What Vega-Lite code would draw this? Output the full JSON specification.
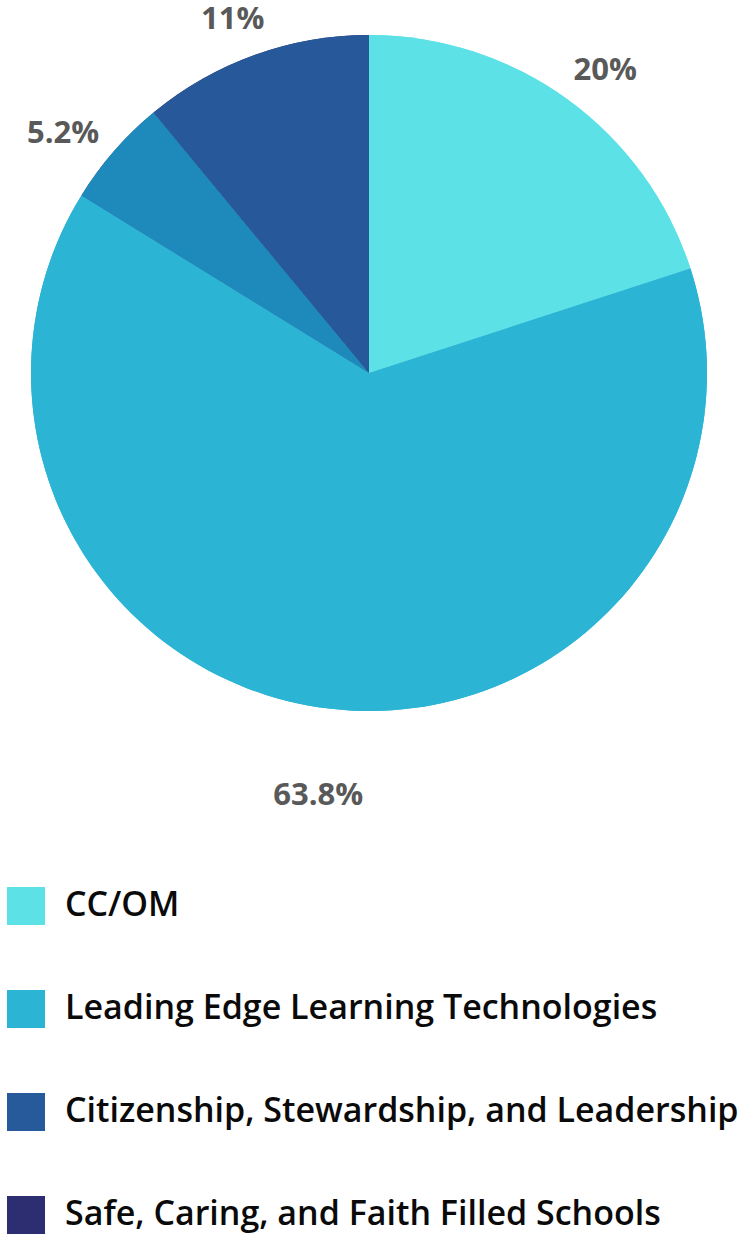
{
  "$schema": "https://vega.github.io/schema/vega-lite/v6.json",
  "width": 738,
  "height": 746,
  "autosize": {"type": "none"},
  "padding": {"left": 0, "top": 0, "right": 5, "bottom": 490},
  "background": "white",
  "config": {"view": {"stroke": null}},
  "data": {
    "values": [
      {"category": "CC/OM", "value": 20, "label": "20%", "idx": 1},
      {"category": "Leading Edge Learning Technologies", "value": 63.8, "label": "63.8%", "idx": 2},
      {"category": "Citizenship, Stewardship, and Leadership", "value": 5.2, "label": "5.2%", "idx": 3},
      {"category": "Safe, Caring, and Faith Filled Schools", "value": 11, "label": "11%", "idx": 4}
    ]
  },
  "layer": [
    {
      "mark": {"type": "arc", "radius": 338},
      "encoding": {
        "theta": {"field": "value", "type": "quantitative", "stack": true},
        "order": {"field": "idx", "type": "quantitative"},
        "color": {
          "field": "category",
          "type": "nominal",
          "scale": {
            "domain": ["CC/OM", "Leading Edge Learning Technologies", "Citizenship, Stewardship, and Leadership", "Safe, Caring, and Faith Filled Schools"],
            "range": ["#5ce1e6", "#2cb4d5", "#265a9a", "#2d2e72"]
          },
          "legend": {
            "title": null,
            "orient": "none",
            "legendX": 7,
            "legendY": 887,
            "direction": "vertical",
            "symbolType": "square",
            "symbolSize": 1444,
            "symbolStrokeWidth": 0,
            "labelFont": "Open Sans",
            "labelFontWeight": 600,
            "labelFontSize": 34,
            "labelColor": "#0a0a0a",
            "labelOffset": 20,
            "labelLimit": 800,
            "rowPadding": 65
          }
        }
      }
    },
    {
      "mark": {"type": "arc", "radius": 338},
      "encoding": {
        "theta": {"field": "value", "type": "quantitative", "stack": true},
        "order": {"field": "idx", "type": "quantitative"},
        "color": {
          "field": "category",
          "type": "nominal",
          "scale": {
            "domain": ["CC/OM", "Leading Edge Learning Technologies", "Citizenship, Stewardship, and Leadership", "Safe, Caring, and Faith Filled Schools"],
            "range": ["#5ce1e6", "#2cb4d5", "#1e89bb", "#27599a"]
          },
          "legend": null
        }
      }
    },
    {
      "mark": {"type": "text", "radius": 383, "thetaOffset": 0.036, "font": "Open Sans", "fontWeight": "bold", "fontSize": 31, "color": "#595959", "align": "center", "baseline": "middle"},
      "encoding": {
        "theta": {"field": "value", "type": "quantitative", "stack": true},
        "order": {"field": "idx", "type": "quantitative"},
        "detail": {"field": "category"},
        "text": {"condition": {"test": "datum.idx != 1", "value": ""}, "field": "label"}
      }
    },
    {
      "mark": {"type": "text", "radius": 426, "font": "Open Sans", "fontWeight": "bold", "fontSize": 31, "color": "#595959", "align": "center", "baseline": "middle"},
      "encoding": {
        "theta": {"field": "value", "type": "quantitative", "stack": true},
        "order": {"field": "idx", "type": "quantitative"},
        "detail": {"field": "category"},
        "text": {"condition": {"test": "datum.idx != 2", "value": ""}, "field": "label"}
      }
    },
    {
      "mark": {"type": "text", "radius": 388, "thetaOffset": -0.054, "font": "Open Sans", "fontWeight": "bold", "fontSize": 31, "color": "#595959", "align": "center", "baseline": "middle"},
      "encoding": {
        "theta": {"field": "value", "type": "quantitative", "stack": true},
        "order": {"field": "idx", "type": "quantitative"},
        "detail": {"field": "category"},
        "text": {"condition": {"test": "datum.idx != 3", "value": ""}, "field": "label"}
      }
    },
    {
      "mark": {"type": "text", "radius": 378, "thetaOffset": -0.023, "font": "Open Sans", "fontWeight": "bold", "fontSize": 31, "color": "#595959", "align": "center", "baseline": "middle"},
      "encoding": {
        "theta": {"field": "value", "type": "quantitative", "stack": true},
        "order": {"field": "idx", "type": "quantitative"},
        "detail": {"field": "category"},
        "text": {"condition": {"test": "datum.idx != 4", "value": ""}, "field": "label"}
      }
    }
  ],
  "resolve": {"scale": {"color": "independent"}}
}
